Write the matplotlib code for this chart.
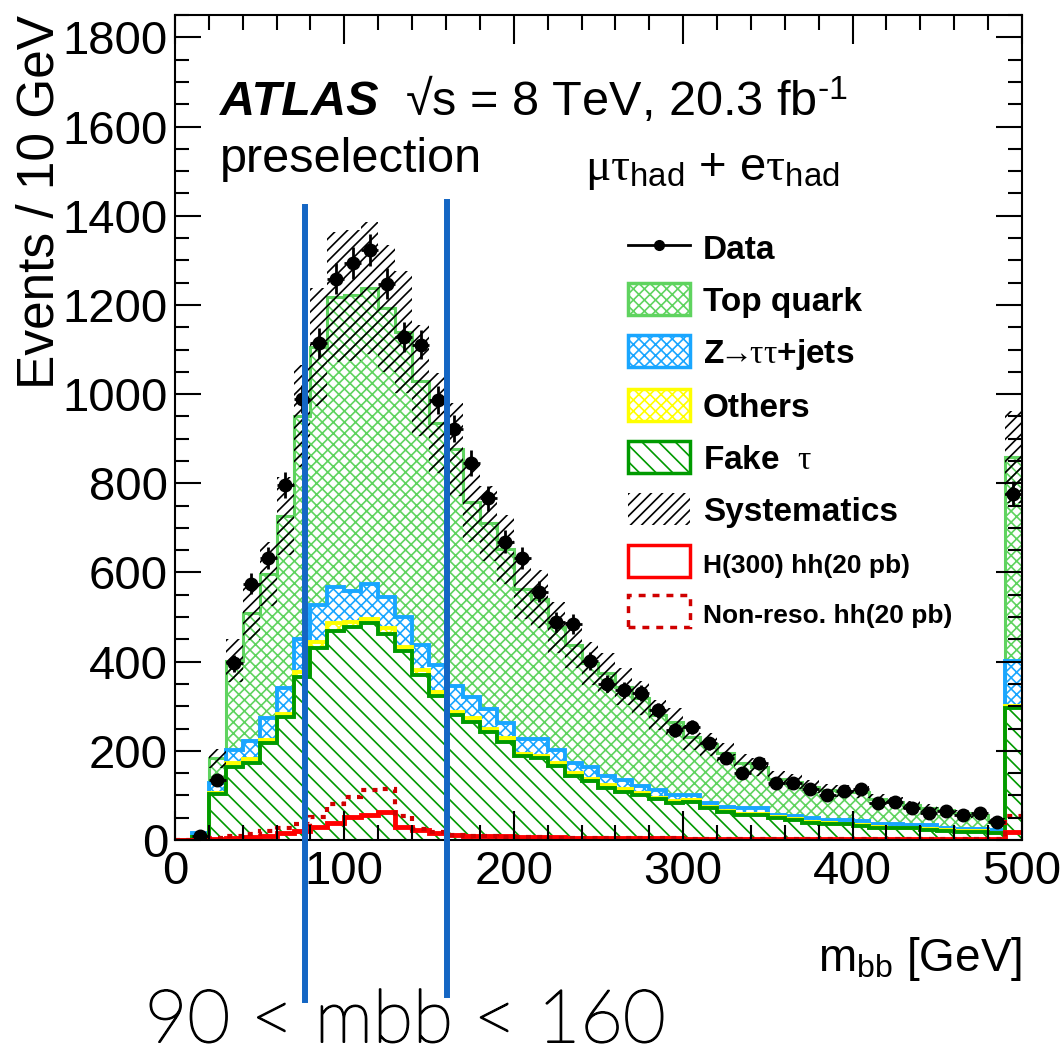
import numpy as np
import matplotlib.pyplot as plt
import matplotlib.patheffects as pe
from matplotlib.patches import Patch
from matplotlib.lines import Line2D
from matplotlib.ticker import MultipleLocator

# m_bb bins, 10 GeV wide
edges = np.arange(0, 501, 10)

data = [0, 10, 134, 396, 575, 632, 796, 988, 1114, 1259,
        1293, 1323, 1248, 1128, 1111, 987, 922, 845, 766, 669,
        633, 557, 489, 484, 402, 351, 336, 329, 291, 247,
        254, 217, 184, 151, 173, 128, 128, 114, 102, 111,
        114, 82, 86, 71, 61, 66, 56, 61, 41, 777]

fake_tau = [0, 6, 103, 164, 173, 218, 277, 366, 430, 469,
            478, 487, 463, 424, 370, 323, 280, 265, 243, 220,
            188, 183, 166, 143, 133, 116, 108, 101, 91, 84,
            86, 71, 63, 56, 56, 49, 45, 39, 37, 35,
            32, 28, 26, 26, 22, 20, 19, 19, 15, 295]

others = [0, 1, 3, 9, 8, 6, 6, 11, 15, 17,
          11, 8, 12, 9, 11, 10, 8, 8, 7, 8,
          6, 5, 6, 7, 5, 7, 6, 5, 4, 4,
          3, 3, 3, 3, 2, 2, 2, 2, 2, 2,
          2, 2, 2, 1, 2, 2, 1, 1, 1, 5]

ztautau = [0, 9, 21, 29, 42, 49, 57, 73, 82, 82,
           70, 79, 69, 67, 56, 59, 57, 48, 43, 35,
           32, 38, 31, 22, 26, 20, 21, 15, 17, 13,
           12, 8, 9, 12, 13, 5, 7, 8, 7, 8,
           9, 7, 8, 7, 10, 4, 5, 5, 6, 102]

top_quark = [0, 0, 56, 200, 287, 323, 386, 501, 579, 650,
             663, 663, 648, 640, 593, 544, 531, 438, 417, 389,
             338, 314, 274, 265, 232, 231, 209, 197, 168, 164,
             129, 133, 120, 101, 93, 82, 77, 71, 66, 65,
             65, 56, 50, 44, 37, 41, 35, 31, 23, 456]

syst_err = [0, 2, 22, 48, 61, 72, 87, 114, 133, 146,
            147, 148, 143, 137, 124, 112, 105, 91, 85, 78,
            68, 65, 57, 52, 48, 45, 41, 38, 34, 32,
            28, 26, 23, 21, 20, 17, 16, 14, 13, 13,
            13, 11, 10, 9, 9, 8, 7, 7, 5, 103]

sig_h300 = [1, 1, 3, 5, 7, 10, 15, 21, 30, 39,
            52, 56, 63, 30, 22, 16, 12, 10, 9, 8,
            7, 6, 6, 5, 5, 5, 4, 4, 4, 4,
            3, 3, 3, 3, 3, 3, 3, 2, 2, 2,
            2, 2, 2, 2, 2, 2, 2, 2, 2, 19]

sig_nonres = [0, 1, 5, 9, 14, 21, 27, 37, 52, 80,
              96, 113, 114, 55, 25, 18, 12, 9, 8, 7,
              6, 6, 5, 5, 5, 4, 4, 4, 4, 4,
              3, 3, 3, 3, 3, 3, 3, 3, 3, 3,
              3, 3, 3, 3, 3, 3, 3, 3, 3, 54]

# the two cut lines drawn over the plot (GeV)
cut_lines = [77, 160.5]

col_top = '#5fd35f'
col_z = '#19a6ff'
col_oth = '#ffff00'
col_fake = '#009a00'
col_cut = '#1466c4'

plt.rcParams['font.family'] = ['Liberation Sans', 'DejaVu Sans']
plt.rcParams['mathtext.fontset'] = 'custom'
plt.rcParams['mathtext.rm'] = 'Liberation Sans'
plt.rcParams['mathtext.it'] = 'Liberation Serif'
plt.rcParams['mathtext.bf'] = 'Liberation Sans:bold'
plt.rcParams['hatch.linewidth'] = 1.2

fig = plt.figure(figsize=(10.61, 10.60), dpi=100)
ax = fig.add_axes([0.1649, 0.2075, 0.7983, 0.7783])

c1 = np.array(fake_tau, float)
c2 = c1 + others
c3 = c2 + ztautau
c4 = c3 + top_quark

# hatched stack
ax.stairs(c4, edges, baseline=c3, fill=True, facecolor='white', edgecolor=col_top, hatch='xxx', lw=0)
ax.stairs(c3, edges, baseline=c2, fill=True, facecolor='white', edgecolor=col_z, hatch='xxx', lw=0)
ax.stairs(c2, edges, baseline=c1, fill=True, facecolor='white', edgecolor=col_oth, hatch='xxx', lw=0)
ax.stairs(c1, edges, baseline=0, fill=True, facecolor='white', edgecolor=col_fake, hatch='\\\\', lw=0)

ax.stairs(c4, edges, baseline=None, color=col_top, lw=2.2)
ax.stairs(c3, edges, baseline=None, color=col_z, lw=2.8)
ax.stairs(c2, edges, baseline=None, color=col_oth, lw=2.8)
ax.stairs(c1, edges, baseline=None, color=col_fake, lw=2.8)

# systematics band
ax.stairs(c4 + syst_err, edges, baseline=c4 - syst_err, fill=True, facecolor='none',
          edgecolor='black', hatch='///', lw=0)

# signals
ax.stairs(sig_h300, edges, baseline=None, color='#ff0000', lw=3.5)
ax.stairs(sig_nonres, edges, baseline=None, color='#d00000', lw=3.0, ls=(0, (1.2, 1.5)))

# data
x = 0.5 * (edges[1:] + edges[:-1])
d = np.array(data, float)
m = d > 0
ax.errorbar(x[m], d[m], yerr=np.sqrt(d[m]), xerr=5, fmt='o', color='black',
            ms=9, lw=2, capsize=0, zorder=5)

for xc, y0, y1 in zip(cut_lines, [-359, -348], [1419, 1430]):
    ax.plot([xc, xc], [y0, y1], color=col_cut, lw=4.3, clip_on=False, zorder=10)

ax.set_xlim(0, 500)
ax.set_ylim(0, 1850)
ax.set_xticks(np.arange(0, 501, 100))
ax.set_yticks(np.arange(0, 1801, 200))
ax.xaxis.set_minor_locator(MultipleLocator(20))
ax.yaxis.set_minor_locator(MultipleLocator(50))
ax.tick_params(which='both', direction='in', top=True, right=True, width=1.5,
               labelsize=34)
ax.xaxis.set_tick_params(which='major', length=21, pad=7)
ax.xaxis.set_tick_params(which='minor', length=10.5)
ax.yaxis.set_tick_params(which='major', length=18.5, pad=5)
ax.yaxis.set_tick_params(which='minor', length=10)
for s in ax.spines.values():
    s.set_linewidth(1.5)

ax.set_ylabel('Events / 10 GeV', fontsize=37, loc='top')
ax.yaxis.set_label_coords(-0.13, 1.0)
ax.set_xlabel(r'm$_{\rm bb}$ [GeV]', fontsize=33, loc='right')
ax.xaxis.set_label_coords(1.0, -0.115)

ax.text(0.053, 0.879, 'ATLAS', transform=ax.transAxes, fontsize=35,
        fontweight='bold', style='italic')
ax.text(0.2715, 0.879, r'√s = 8 TeV, 20.3 fb$^{\text{-1}}$', transform=ax.transAxes,
        fontsize=35)
ax.text(0.053, 0.81, 'preselection', transform=ax.transAxes, fontsize=35)
ax.text(0.484, 0.80, r'$\mu\tau_{\rm had}$ + e$\tau_{\rm had}$', transform=ax.transAxes,
        fontsize=34)

handles = [
    Line2D([], [], color='black', marker='o', ms=7, lw=2),
    Patch(facecolor='white', edgecolor=col_top, hatch='xxx', lw=2.5),
    Patch(facecolor='white', edgecolor=col_z, hatch='xxx', lw=2.5),
    Patch(facecolor='white', edgecolor=col_oth, hatch='xxx', lw=2.5),
    Patch(facecolor='white', edgecolor=col_fake, hatch='\\\\', lw=2.5),
    Patch(facecolor='none', edgecolor='black', hatch='///', lw=0),
    Patch(facecolor='white', edgecolor='#ff0000', lw=2.5),
    Patch(facecolor='white', edgecolor='#d00000', lw=2.5, ls=(0, (2, 2))),
]
labels = ['Data', 'Top quark', r'Z$\!\!\rightarrow\!\!\tau\tau$+jets', 'Others', r'Fake  $\tau$',
          'Systematics', 'H(300) hh(20 pb)', 'Non-reso. hh(20 pb)']
leg = ax.legend(handles, labels, loc='upper left', bbox_to_anchor=(0.535, 0.738),
                frameon=False, borderpad=0, borderaxespad=0, handlelength=1.86,
                handleheight=1.1, handletextpad=0.39, labelspacing=0.53,
                prop={'weight': 'bold', 'size': 24})
for t in leg.get_texts()[6:]:
    t.set_fontsize(19)

fig.text(0.382, 0.036, '90 < mbb < 160', ha='center', va='center', fontsize=53,
         family='Lato', fontweight='light', color='black',
         path_effects=[pe.withStroke(linewidth=1.3, foreground='black')])

fig.savefig('out.png', dpi=100)
